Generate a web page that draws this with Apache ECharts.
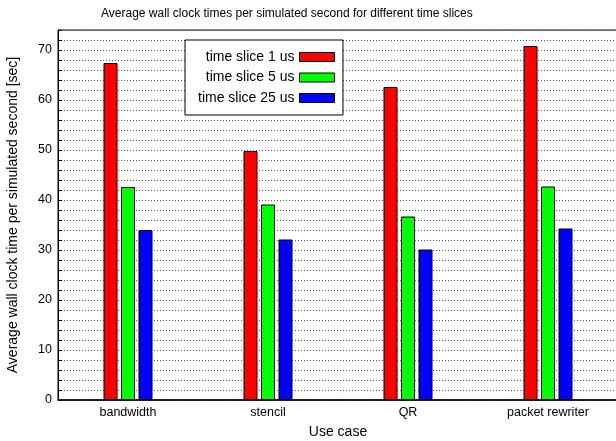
<!DOCTYPE html>
<html><head><meta charset="utf-8">
<script src="https://cdn.jsdelivr.net/npm/echarts@6/dist/echarts.min.js"></script>
<style>html,body{margin:0;padding:0;background:#fff}#c{width:616px;height:441px}</style>
</head><body><div id="c"></div>
<script>
const categories = ['bandwidth', 'stencil', 'QR', 'packet rewriter'];
const seriesNames = ['time slice 1 us', 'time slice 5 us', 'time slice 25 us'];
const slice1 = [67.4, 49.8, 62.6, 70.8];
const slice5 = [42.6, 39.1, 36.7, 42.7];
const slice25 = [34.0, 32.1, 30.1, 34.3];
const colors = ['#ff0000', '#00ff00', '#0000ff'];
const values = [slice1, slice5, slice25];

const FONT = 'Liberation Sans';
const chart = echarts.init(document.getElementById('c'), null, {renderer: 'canvas'});
chart.setOption({
  animation: false,
  backgroundColor: '#fff',
  textStyle: {fontFamily: FONT},
  title: {
    text: 'Average wall clock times per simulated second for different time slices',
    left: 96, top: 3,
    textStyle: {fontFamily: FONT, fontSize: 12, fontWeight: 'normal', color: '#000'}
  },
  legend: {
    orient: 'vertical',
    left: 185, top: 40,
    align: 'right',
    icon: 'rect',
    itemWidth: 35, itemHeight: 9, itemGap: 6.5,
    padding: [10, 8, 10, 13],
    borderColor: '#000', borderWidth: 1,
    backgroundColor: '#fff',
    textStyle: {fontFamily: FONT, fontSize: 14, color: '#000'},
    data: seriesNames.map((n, i) => ({name: n, itemStyle: {color: colors[i], borderColor: '#000', borderWidth: 1}}))
  },
  grid: {left: 58, right: -2, top: 30, bottom: 41, show: true, borderColor: '#000', borderWidth: 1,
    containLabel: false, outerBoundsMode: 'none'},
  xAxis: {
    type: 'category', data: categories,
    name: 'Use case', nameLocation: 'middle', nameGap: 25,
    nameTextStyle: {fontFamily: FONT, fontSize: 14, color: '#000'},
    axisLine: {lineStyle: {color: '#000', width: 1.5}},
    axisTick: {show: false},
    axisLabel: {fontFamily: FONT, fontSize: 12.5, color: '#000', margin: 6}
  },
  yAxis: {
    type: 'value', min: 0, max: 74, interval: 2,
    name: 'Average wall clock time per simulated second [sec]',
    nameLocation: 'middle', nameGap: 38,
    nameTextStyle: {fontFamily: FONT, fontSize: 14, color: '#000'},
    axisLine: {show: true, lineStyle: {color: '#000'}},
    axisTick: {show: true, inside: true, length: 4, lineStyle: {color: '#000'}},
    axisLabel: {fontFamily: FONT, fontSize: 12.5, color: '#000', margin: 6,
      formatter: v => (v % 10 === 0 ? String(v) : '')},
    splitLine: {show: true, lineStyle: {color: '#555', type: [1, 2], width: 1}}
  },
  series: seriesNames.map((n, i) => ({
    name: n, type: 'bar', data: values[i],
    barWidth: 14, barGap: '25%',
    itemStyle: {color: colors[i], borderColor: '#000', borderWidth: 1}
  }))
});
</script></body></html>
